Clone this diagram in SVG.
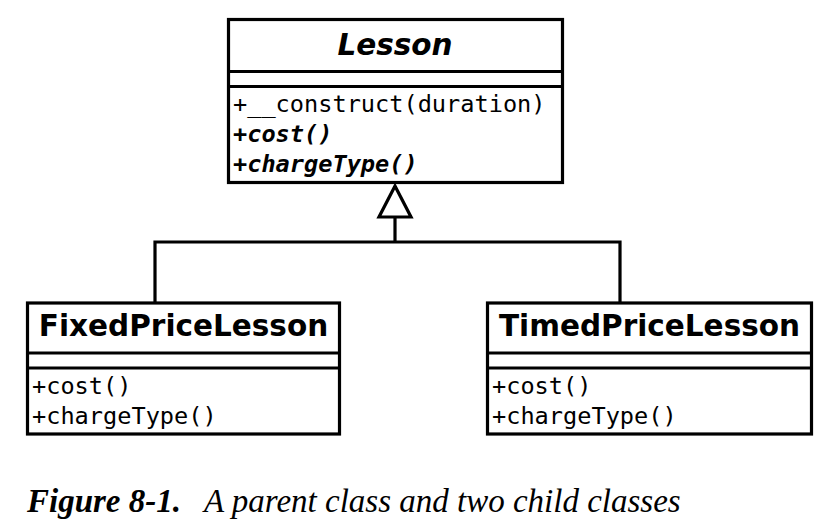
<svg xmlns="http://www.w3.org/2000/svg" width="832" height="532" viewBox="0 0 832 532">
<style>
.box{fill:#fff;stroke:#000;stroke-width:3.2}
.ln{stroke:#000;stroke-width:3.2;fill:none}
.title{font-family:"DejaVu Sans",sans-serif;font-weight:bold;font-size:29.5px;text-anchor:middle}
.m{font-family:"DejaVu Sans Mono",monospace;font-size:23.6px}
.ab{font-weight:bold;font-style:italic}
.cap{font-family:"Liberation Serif",serif;font-style:italic;font-size:33px}
</style>
<rect width="832" height="532" fill="#fff"/>
<g id="connectors">
<polyline class="ln" points="155,303 155,242 620,242 620,303"/>
<line class="ln" x1="395" y1="242" x2="395" y2="217"/>
<polygon class="ln" fill="#fff" points="395,186 379,217 411,217"/>
</g>
<g id="Lesson">
<rect class="box" x="228.5" y="19.5" width="334" height="163"/>
<line class="ln" x1="228.5" y1="71.5" x2="562.5" y2="71.5"/>
<line class="ln" x1="228.5" y1="86.5" x2="562.5" y2="86.5"/>
<text class="title" x="395" y="55" font-style="italic">Lesson</text>
<text class="m" x="233" y="112">+__construct(duration)</text>
<text class="m ab" x="233" y="142">+cost()</text>
<text class="m ab" x="233" y="172">+chargeType()</text>
</g>
<g id="FixedPriceLesson">
<rect class="box" x="27.5" y="303" width="312" height="131"/>
<line class="ln" x1="27.5" y1="353" x2="339.5" y2="353"/>
<line class="ln" x1="27.5" y1="368" x2="339.5" y2="368"/>
<text class="title" x="183.5" y="336">FixedPriceLesson</text>
<text class="m" x="32" y="394">+cost()</text>
<text class="m" x="32" y="424">+chargeType()</text>
</g>
<g id="TimedPriceLesson">
<rect class="box" x="487.5" y="303" width="324" height="131"/>
<line class="ln" x1="487.5" y1="353" x2="811.5" y2="353"/>
<line class="ln" x1="487.5" y1="368" x2="811.5" y2="368"/>
<text class="title" x="649.5" y="336">TimedPriceLesson</text>
<text class="m" x="492" y="394">+cost()</text>
<text class="m" x="492" y="424">+chargeType()</text>
</g>
<text class="cap" x="27" y="512"><tspan font-weight="bold">Figure 8-1.</tspan><tspan x="204">A parent class and two child classes</tspan></text>
</svg>
